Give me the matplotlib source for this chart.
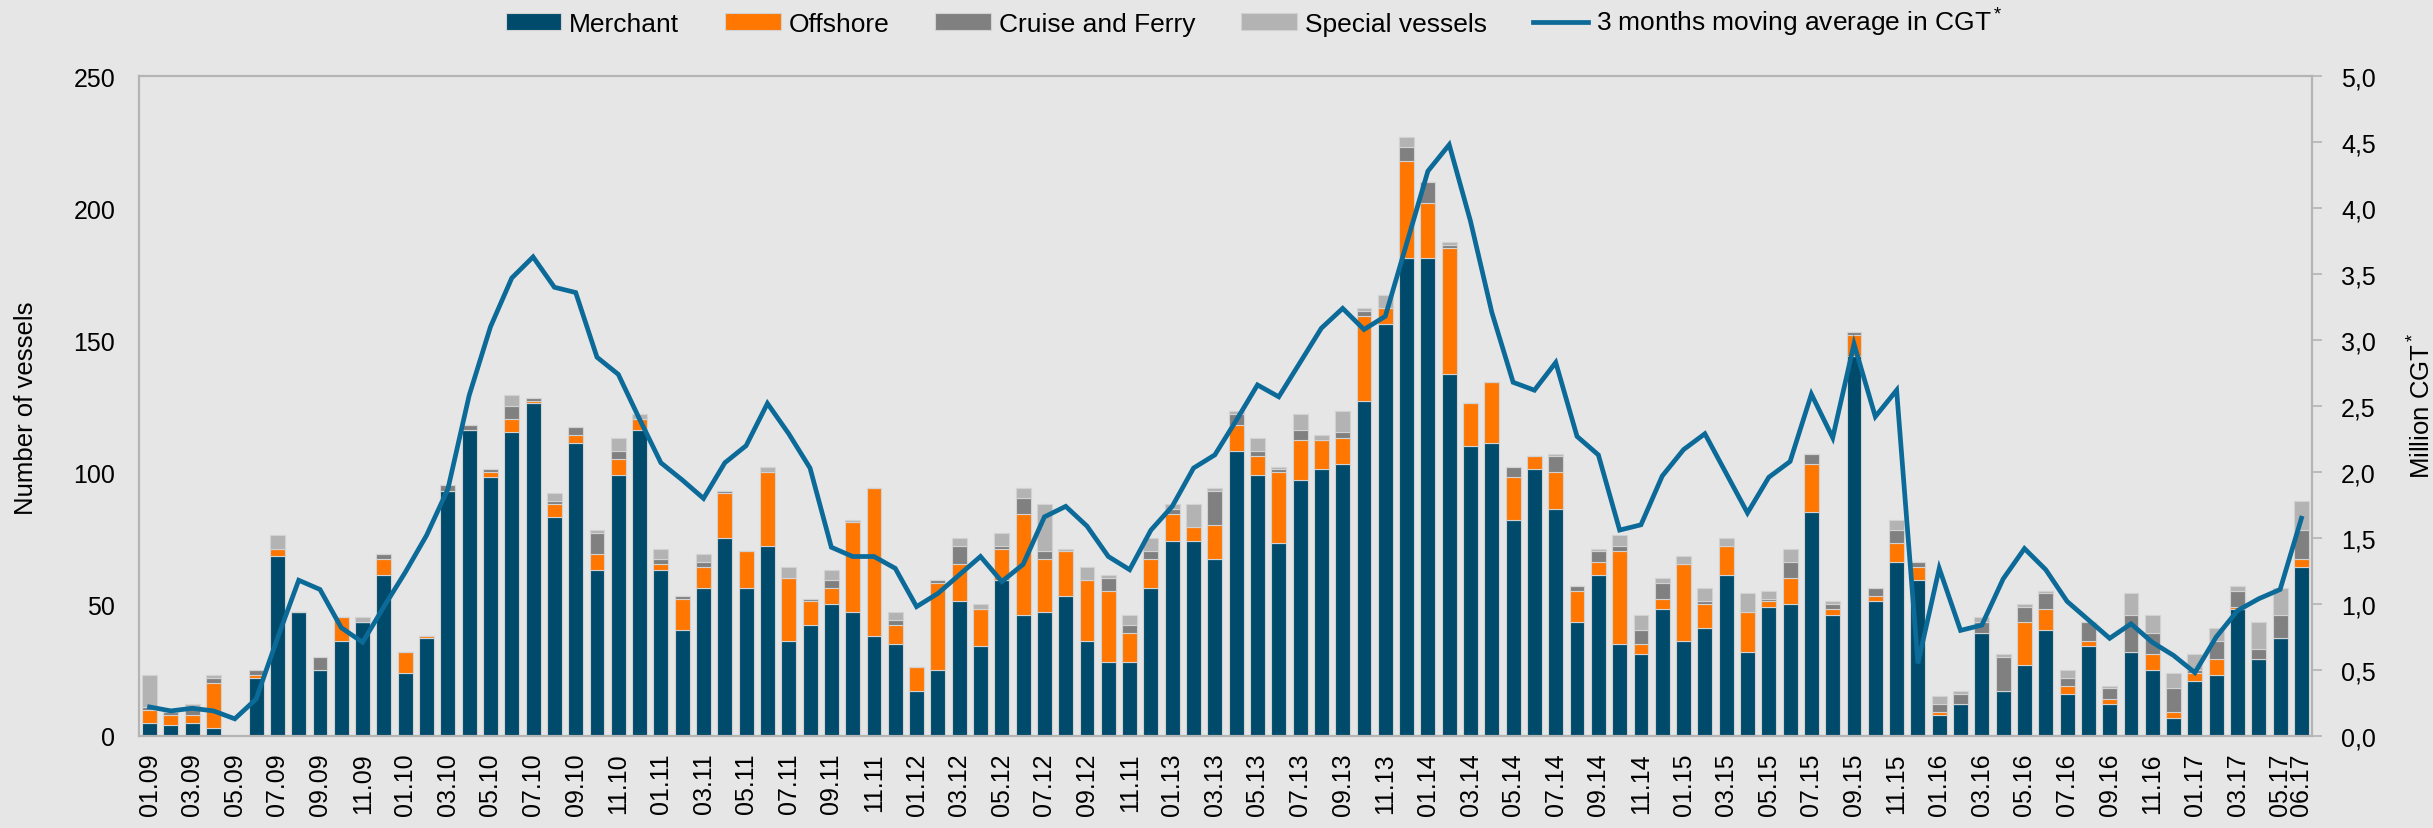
import matplotlib
matplotlib.use("Agg")
import matplotlib.pyplot as plt
import numpy as np

plt.rcParams['font.family'] = ['Liberation Sans', 'DejaVu Sans']
plt.rcParams['mathtext.fontset'] = 'custom'
plt.rcParams['mathtext.rm'] = 'Liberation Sans'
plt.rcParams['mathtext.it'] = 'Liberation Sans'

# monthly data 01.09 - 06.17
months = [f"{m:02d}.{y:02d}" for y in range(9, 18) for m in range(1, 13)][:102]

merchant = [5, 4, 5, 3, 0, 22, 68, 47, 25, 36, 43, 61, 24, 37, 93, 116, 98, 115,
            126, 83, 111, 63, 99, 116, 63, 40, 56, 75, 56, 72, 36, 42, 50, 47, 38,
            35, 17, 25, 51, 34, 59, 46, 47, 53, 36, 28, 28, 56, 74, 74, 67,
            108, 99, 73, 97, 101, 103, 127, 156, 181, 181, 137, 110, 111, 82, 101, 86, 43,
            61, 35, 31, 48, 36, 41, 61, 32, 49, 50, 85, 46, 144, 51, 66, 59, 8,
            12, 39, 17, 27, 40, 16, 34, 12, 32, 25, 7, 21, 23, 48, 29, 37, 64]
offshore = [5, 4, 3, 17, 0, 1, 3, 0, 0, 9, 0, 6, 8, 1, 0, 0, 2, 5,
            1, 5, 3, 6, 6, 4, 2, 12, 8, 17, 14, 28, 24, 9, 6, 34, 56,
            7, 9, 33, 14, 14, 12, 38, 20, 17, 23, 27, 11, 11, 10, 5, 13,
            10, 7, 27, 15, 11, 10, 32, 6, 37, 21, 48, 16, 23, 16, 5, 14, 12,
            5, 35, 4, 4, 29, 9, 11, 15, 2, 10, 18, 2, 8, 2, 7, 5, 1,
            0, 0, 0, 16, 8, 3, 2, 2, 0, 6, 2, 3, 6, 1, 0, 0, 3]
cruise = [1, 1, 3, 2, 0, 2, 0, 0, 5, 0, 0, 2, 0, 0, 2, 2, 1, 5,
          1, 1, 3, 8, 3, 0, 2, 1, 2, 1, 0, 0, 0, 1, 3, 0, 0,
          2, 0, 1, 7, 0, 1, 6, 3, 0, 0, 5, 3, 3, 2, 0, 13,
          4, 2, 1, 4, 0, 2, 2, 0, 5, 8, 1, 0, 0, 4, 0, 6, 2,
          4, 2, 5, 6, 0, 1, 0, 0, 1, 6, 4, 2, 1, 3, 5, 2, 3,
          4, 4, 13, 6, 6, 3, 7, 4, 14, 8, 9, 1, 7, 6, 4, 9, 11]
special = [12, 1, 1, 1, 0, 0, 5, 0, 0, 0, 2, 0, 0, 0, 0, 0, 0, 4,
           0, 3, 0, 1, 5, 2, 4, 0, 3, 0, 0, 2, 4, 0, 4, 1, 0,
           3, 0, 0, 3, 2, 5, 4, 18, 1, 5, 1, 4, 5, 2, 9, 1,
           1, 5, 1, 6, 2, 8, 1, 5, 4, 0, 1, 0, 0, 0, 0, 1, 0,
           1, 4, 6, 2, 3, 5, 3, 7, 3, 5, 0, 1, 0, 0, 4, 0, 3,
           1, 2, 1, 1, 1, 3, 0, 1, 8, 7, 6, 6, 5, 2, 10, 10, 11]
cgt_avg = [0.22, 0.19, 0.21, 0.19, 0.13, 0.28, 0.74, 1.18, 1.11, 0.82, 0.71, 0.98, 1.24, 1.52, 1.87, 2.58, 3.10, 3.47,
           3.63, 3.40, 3.36, 2.87, 2.74, 2.40, 2.07, 1.94, 1.80, 2.07, 2.20, 2.52, 2.29, 2.03, 1.43, 1.36, 1.36,
           1.27, 0.98, 1.08, 1.22, 1.36, 1.17, 1.30, 1.66, 1.74, 1.59, 1.36, 1.26, 1.56, 1.74, 2.03, 2.13,
           2.39, 2.66, 2.57, 2.83, 3.09, 3.24, 3.08, 3.18, 3.73, 4.28, 4.48, 3.90, 3.21, 2.68, 2.62, 2.83, 2.27,
           2.13, 1.56, 1.60, 1.97, 2.17, 2.29, 1.99, 1.69, 1.96, 2.08, 2.59, 2.26, 2.97, 2.42, 2.62, 0.55, 1.27,
           0.80, 0.84, 1.19, 1.42, 1.26, 1.02, 0.88, 0.74, 0.85, 0.71, 0.61, 0.48, 0.75, 0.95, 1.04, 1.11, 1.65]

# every other month is labelled (the source has "11.11" where 11.12 should be)
tick_labels = ["01.09", "03.09", "05.09", "07.09", "09.09", "11.09",
               "01.10", "03.10", "05.10", "07.10", "09.10", "11.10",
               "01.11", "03.11", "05.11", "07.11", "09.11", "11.11",
               "01.12", "03.12", "05.12", "07.12", "09.12", "11.11",
               "01.13", "03.13", "05.13", "07.13", "09.13", "11.13",
               "01.14", "03.14", "05.14", "07.14", "09.14", "11.14",
               "01.15", "03.15", "05.15", "07.15", "09.15", "11.15",
               "01.16", "03.16", "05.16", "07.16", "09.16", "11.16",
               "01.17", "03.17", "05.17", "06.17"]

bg = '#e6e6e6'
spine_col = '#b4b4b4'
fs = 18

fig = plt.figure(figsize=(24.33, 8.29), dpi=100, facecolor=bg)
ax = fig.add_axes([0.0571, 0.111, 0.8932, 0.796])
ax.set_facecolor(bg)

x = np.arange(len(months))
m = np.array(merchant)
o = np.array(offshore)
c = np.array(cruise)
s = np.array(special)
bar_kw = dict(width=0.7, edgecolor='#d2d2d2', linewidth=0.8)
ax.bar(x, m, color='#004b6b', label='Merchant', **bar_kw)
ax.bar(x, o, bottom=m, color='#ff7700', label='Offshore', **bar_kw)
ax.bar(x, c, bottom=m + o, color='#808080', label='Cruise and Ferry', **bar_kw)
ax.bar(x, s, bottom=m + o + c, color='#b3b3b3', label='Special vessels', **bar_kw)

ax.set_xlim(-0.5, len(months) - 0.5)
ax.set_ylim(0, 250)
ax.set_yticks(np.arange(0, 251, 50))
tick_pos = list(range(0, len(months), 2)) + [len(months) - 1]
ax.set_xticks(tick_pos)
ax.set_xticklabels(tick_labels, rotation=90, fontsize=fs)
ax.tick_params(axis='x', length=0, pad=12)
ax.tick_params(axis='y', length=0, pad=17, labelsize=fs)
for sp in ax.spines.values():
    sp.set_color(spine_col)
    sp.set_linewidth(1.5)

ax2 = ax.twinx()
ax2.plot(x, cgt_avg, color='#0b6a98', lw=3.4, solid_joinstyle='miter',
         label='3 months moving average in CGT$^*$')
ax2.set_ylim(0, 5)
ax2.set_yticks(np.arange(0, 5.01, 0.5))
ax2.set_yticklabels([f"{v:.1f}".replace('.', ',') for v in np.arange(0, 5.01, 0.5)])
ax2.tick_params(axis='y', length=7, width=1.2, color=spine_col, pad=14, labelsize=fs)
for sp in ax2.spines.values():
    sp.set_color(spine_col)
    sp.set_linewidth(1.5)

fig.text(0.0107, 0.507, 'Number of vessels', rotation=90, ha='center', va='center', fontsize=18.5)
fig.text(0.9955, 0.51, 'Million CGT$^*$', rotation=90, ha='center', va='center', fontsize=18.5)

h1, l1 = ax.get_legend_handles_labels()
h2, l2 = ax2.get_legend_handles_labels()
fig.legend(h1 + h2, l1 + l2, loc='center', bbox_to_anchor=(0.5155, 0.972), ncol=5,
           frameon=False, fontsize=19, handlelength=2.1, handleheight=0.6,
           handletextpad=0.3, columnspacing=1.75)

fig.savefig('out.png', dpi=100, facecolor=bg)
